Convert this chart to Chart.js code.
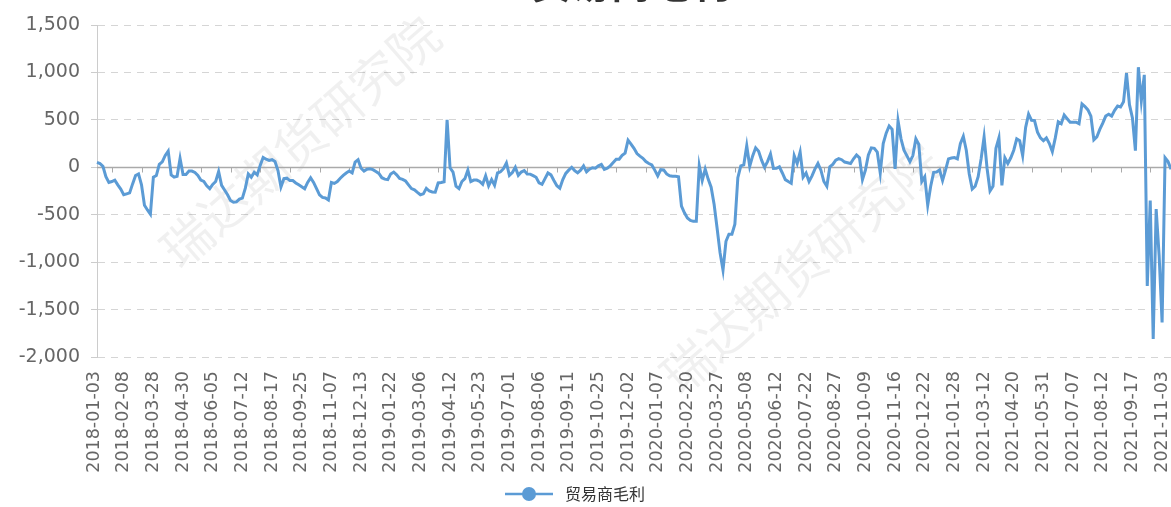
<!DOCTYPE html>
<html><head><meta charset="utf-8">
<script src="https://cdn.jsdelivr.net/npm/chart.js@4/dist/chart.umd.min.js"></script>
<style>html,body{margin:0;padding:0;background:#fff;overflow:hidden}#wrap{width:1171px;height:507px;position:relative}</style>
</head><body><div id="wrap"><canvas id="c" width="1171" height="507"></canvas></div>
<script>
const chartTitle = 'PTA贸易商毛利';
const seriesName = '贸易商毛利';
const watermarkText = '瑞达期货研究院';
const tickDates = ['2018-01-03','2018-02-08','2018-03-28','2018-04-30','2018-06-05','2018-07-12','2018-08-17','2018-09-25','2018-11-07','2018-12-13','2019-01-22','2019-03-06','2019-04-12','2019-05-23','2019-07-01','2019-08-06','2019-09-11','2019-10-25','2019-12-02','2020-01-07','2020-02-20','2020-03-27','2020-05-08','2020-06-12','2020-07-22','2020-08-27','2020-10-09','2020-11-16','2020-12-22','2021-01-28','2021-03-12','2021-04-20','2021-05-31','2021-07-07','2021-08-12','2021-09-17','2021-11-03'];
const STEP = 10;
const margin = [
52,40,10,-100,-160,-150,-135,-185,-230,-290,
-280,-270,-175,-87,-70,-185,-400,-450,-495,-104,
-87,30,58,125,170,-80,-104,-95,94,-75,
-75,-40,-40,-55,-85,-135,-150,-195,-225,-180,
-150,-45,-190,-240,-290,-350,-368,-365,-335,-325,
-220,-70,-104,-52,-80,20,104,85,72,80,
60,-35,-208,-120,-115,-140,-140,-165,-185,-205,
-226,-160,-110,-160,-225,-290,-318,-323,-345,-160,
-170,-150,-115,-85,-60,-40,-60,55,80,-10,
-40,-20,-15,-25,-45,-65,-110,-125,-130,-70,
-50,-80,-118,-128,-145,-185,-225,-238,-265,-290,
-280,-222,-250,-260,-262,-165,-160,-152,500,-5,
-50,-200,-225,-150,-120,-30,-150,-135,-135,-150,
-180,-90,-195,-130,-190,-60,-48,-15,45,-85,
-55,0,-85,-50,-35,-70,-72,-88,-105,-165,
-180,-120,-60,-80,-140,-195,-220,-130,-65,-30,
0,-35,-58,-30,15,-48,-20,-5,-10,15,
30,-22,-10,15,50,85,85,125,150,285,
245,200,145,118,95,60,40,25,-30,-90,
-25,-28,-70,-90,-94,-94,-100,-410,-480,-535,
-560,-570,-570,17,-140,-20,-125,-210,-390,-640,
-900,-1085,-780,-705,-705,-600,-110,15,25,227,
10,120,205,170,75,0,60,140,-12,-10,
5,-60,-130,-150,-168,122,40,160,-105,-60,
-150,-90,-17,40,-30,-150,-200,5,30,75,
92,80,55,48,40,90,130,100,-130,-30,
130,205,200,160,-60,250,360,435,400,-17,
490,300,180,120,60,123,300,240,-150,-100,
-400,-200,-53,-50,-28,-140,-30,88,98,102,
88,250,327,180,-70,-230,-200,-100,90,320,
-10,-250,-200,200,310,-190,100,40,100,180,
299,280,123,420,560,495,492,370,310,281,
310,250,165,310,480,460,550,512,475,475,
475,460,668,640,605,540,290,320,400,465,
540,560,540,600,645,635,690,992,660,520,
176,1055,700,975,-1250,-350,-1811,-440,-932,-1635,
100,60,-20
];
const yMin = -2000, yMax = 1500, yStep = 500;

const labels = margin.map((_, i) => (i % STEP === 0 ? tickDates[i / STEP] : ''));
const LINE_COLOR = '#5b9bd5';

const decor = {
  id: 'decor',
  beforeDraw(chart) {
    const ctx = chart.ctx;
    ctx.save();
    ctx.fillStyle = '#fff';
    ctx.fillRect(0, 0, chart.width, chart.height);
    ctx.restore();
  },
  beforeDatasetsDraw(chart) {
    const ctx = chart.ctx, a = chart.chartArea;
    const x = chart.scales.x, y = chart.scales.y;
    ctx.save();
    ctx.fillStyle = 'rgba(0,0,0,0.06)';
    ctx.font = '50px "Noto Sans CJK SC"';
    ctx.textAlign = 'center';
    ctx.textBaseline = 'middle';
    [[300, 142], [800, 268]].forEach(([cx, cy]) => {
      ctx.save(); ctx.translate(cx, cy); ctx.rotate(-41 * Math.PI / 180);
      ctx.fillText(watermarkText, 0, 0); ctx.restore();
    });
    ctx.restore();
    const y0 = Math.round(y.getPixelForValue(0)) + 0.5;
    ctx.save();
    ctx.strokeStyle = '#aaa';
    ctx.lineWidth = 1.5;
    ctx.beginPath(); ctx.moveTo(a.left, y0); ctx.lineTo(a.right, y0); ctx.stroke();
    ctx.lineWidth = 1;
    ctx.beginPath();
    for (let i = STEP / 2; i < margin.length; i += STEP) {
      const px = Math.round(x.getPixelForValue(i)) + 0.5;
      ctx.moveTo(px, y0); ctx.lineTo(px, y0 + 5);
    }
    ctx.stroke();
    ctx.restore();
  },
  afterDraw(chart) {
    const ctx = chart.ctx;
    ctx.save();
    ctx.fillStyle = '#333';
    ctx.font = 'bold 40px "Noto Sans CJK SC"';
    ctx.textAlign = 'center';
    ctx.textBaseline = 'alphabetic';
    ctx.fillText(chartTitle, 593, -2);
    const ly = 494, lx = 529;
    ctx.strokeStyle = LINE_COLOR; ctx.lineWidth = 2.5;
    ctx.beginPath(); ctx.moveTo(lx - 24, ly); ctx.lineTo(lx + 24, ly); ctx.stroke();
    ctx.fillStyle = LINE_COLOR;
    ctx.beginPath(); ctx.arc(lx, ly, 7, 0, Math.PI * 2); ctx.fill();
    ctx.fillStyle = '#333';
    ctx.font = '16px "Noto Sans CJK SC"';
    ctx.textAlign = 'left'; ctx.textBaseline = 'middle';
    ctx.fillText(seriesName, lx + 36, ly);
    ctx.restore();
  }
};

new Chart(document.getElementById('c'), {
  type: 'line',
  data: {
    labels: labels,
    datasets: [{
      label: seriesName,
      data: margin,
      borderColor: LINE_COLOR,
      backgroundColor: LINE_COLOR,
      borderWidth: 3,
      pointRadius: 0,
      pointHoverRadius: 0,
      tension: 0,
      fill: false
    }]
  },
  options: {
    responsive: false,
    animation: false,
    devicePixelRatio: 1,
    layout: { padding: { top: 25, left: 0, right: 0, bottom: 0 } },
    plugins: { legend: { display: false }, tooltip: { enabled: false }, title: { display: false } },
    scales: {
      x: {
        type: 'category',
        offset: false,
        grid: { display: false },
        border: { display: false },
        afterFit(s) { s.height = 150; s.paddingLeft = 0; s.paddingRight = 0; },
        ticks: {
          autoSkip: false,
          minRotation: 90,
          maxRotation: 90,
          padding: 6,
          labelOffset: -3,
          color: '#666',
          font: { family: 'DejaVu Sans', size: 17.5 },
          callback(v, i) { const t = labels[i]; return t ? t : null; }
        }
      },
      y: {
        min: yMin, max: yMax,
        afterFit(s) { s.width = 97; },
        ticks: {
          stepSize: yStep,
          padding: 11,
          color: '#666',
          font: { family: 'DejaVu Sans', size: 19 },
          callback(v) { return v.toLocaleString('en-US'); }
        },
        grid: { color: '#d5d5d5', lineWidth: 1, drawTicks: true, tickLength: 6, tickColor: '#ccc', tickBorderDash: [] },
        border: { display: true, color: '#ccc', width: 1, dash: [7, 6] }
      }
    }
  },
  plugins: [decor]
});
</script></body></html>
